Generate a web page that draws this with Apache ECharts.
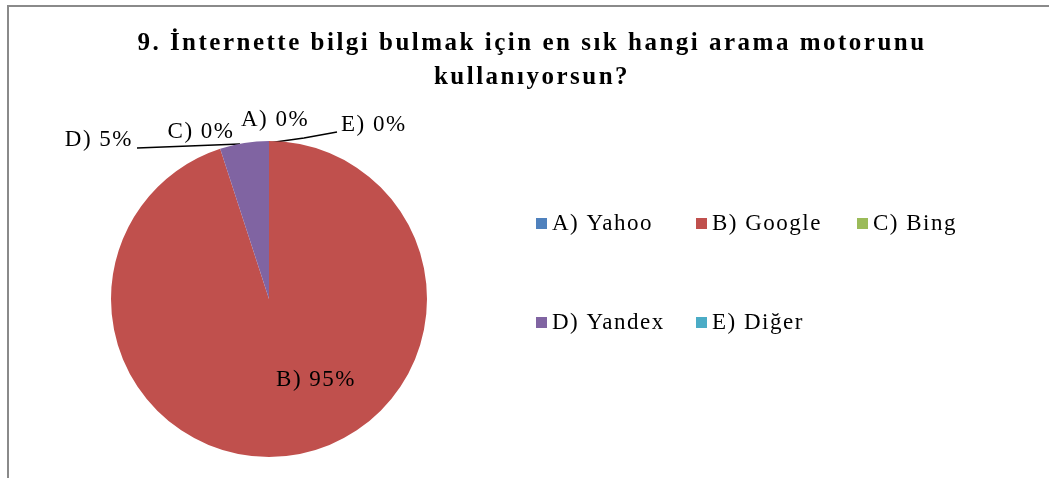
<!DOCTYPE html>
<html>
<head>
<meta charset="utf-8">
<script src="https://cdn.jsdelivr.net/npm/echarts@6/dist/echarts.min.js"></script>
<style>
  html, body { margin: 0; padding: 0; background: #fff; }
  #frame { position: absolute; left: 7px; top: 5px; width: 1100px; height: 520px;
           border-left: 2px solid #8a8a8a; border-top: 2px solid #8a8a8a; }
  #chart { position: absolute; left: 0; top: 0; width: 1049px; height: 478px; }
</style>
</head>
<body>
<div id="frame"></div>
<div id="chart"></div>
<script>
// answer options and their share (%)
const categories = ['A) Yahoo', 'B) Google', 'C) Bing', 'D) Yandex', 'E) Diğer']
const shortNames = ['A)', 'B)', 'C)', 'D)', 'E)']
const values = [0, 95, 0, 5, 0]
const colors = ['#4f81bd', '#c0504d', '#9bbb59', '#8064a2', '#4bacc6']

const font = '"Liberation Serif", "Times New Roman", serif'
const cx = 269, cy = 299, r = 158
const legendCols = [531, 691, 852]
const legendRows = [207, 306]

// the source text is set wide: add a little tracking to every drawn string
const drawText = CanvasRenderingContext2D.prototype.fillText
CanvasRenderingContext2D.prototype.fillText = function (t, x, y, w) {
  if ('letterSpacing' in this) this.letterSpacing = /bold/.test(this.font) ? '2.5px' : '1.5px'
  return w === undefined ? drawText.call(this, t, x, y) : drawText.call(this, t, x, y, w)
}

// where each label sits (label placement only, relative to pie centre)
const labelSpots = {
  0: {x: cx + 6, y: cy - 179, align: 'center'},
  1: {x: cx + 47, y: cy + 81, align: 'center'},
  2: {x: cx - 68, y: cy - 167, align: 'center'},
  3: {x: cx - 136, y: cy - 159, align: 'right', line: [[cx - 29, cy - 155], [cx - 80, cy - 153], [cx - 132, cy - 151]]},
  4: {x: cx + 72, y: cy - 174, align: 'left', line: [[cx - 1, cy - 156], [cx + 35, cy - 161], [cx + 68, cy - 167]]}
}

const data = categories.map((name, i) => ({
  name: name,
  value: values[i],
  itemStyle: {color: colors[i]},
  label: {
    position: i === 1 ? 'inside' : 'outside',
    formatter: shortNames[i] + ' ' + values[i] + '%'
  },
  labelLine: {show: !!labelSpots[i].line}
}))

// one legend per entry so the entries line up in columns
const legends = categories.map((name, i) => ({
  data: [name],
  left: legendCols[i % 3],
  top: legendRows[Math.floor(i / 3)],
  icon: 'rect', itemWidth: 11, itemHeight: 11,
  selectedMode: false,
  textStyle: {fontFamily: font, fontSize: 23, color: '#000'}
}))

const chart = echarts.init(document.getElementById('chart'))
chart.setOption({
  backgroundColor: 'transparent',
  animation: false,
  title: {
    text: '9. İnternette bilgi bulmak için en sık hangi arama motorunu\nkullanıyorsun?',
    left: 527,
    top: 22,
    textAlign: 'center',
    textStyle: {fontFamily: font, fontWeight: 'bold', fontSize: 25, lineHeight: 34, color: '#000'}
  },
  legend: legends,
  series: [{
    type: 'pie',
    center: [cx, cy],
    radius: r,
    startAngle: 90,
    clockwise: true,
    avoidLabelOverlap: false,
    minShowLabelAngle: 0,
    stillShowZeroSum: true,
    label: {fontFamily: font, fontSize: 23, color: '#000'},
    labelLine: {lineStyle: {color: '#000', width: 1.5}},
    itemStyle: {borderWidth: 0},
    emphasis: {disabled: true},
    labelLayout: function (params) {
      const s = labelSpots[params.dataIndex]
      const out = {x: s.x, y: s.y, align: s.align, verticalAlign: 'middle'}
      if (s.line) out.labelLinePoints = s.line
      return out
    },
    data: data
  }]
})
</script>
</body>
</html>
